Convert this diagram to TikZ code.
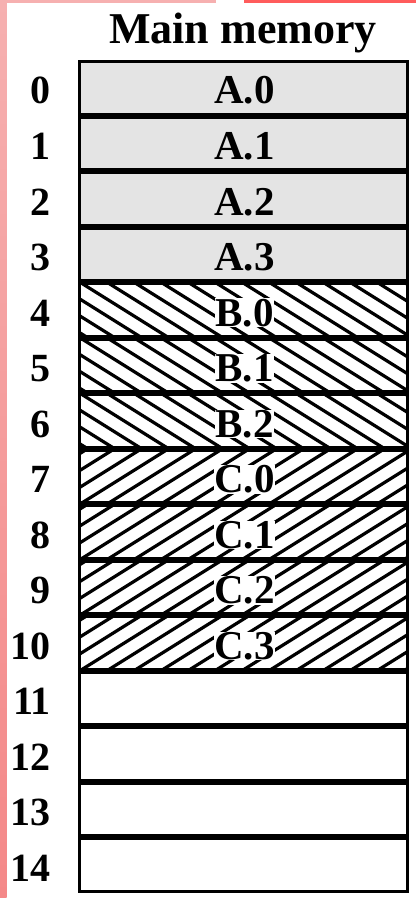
\documentclass[tikz,border=0pt]{standalone}
\usepackage{fontspec}
\setmainfont{Liberation Serif}
\definecolor{cellgray}{HTML}{E4E4E4}
\definecolor{pinkA}{HTML}{F6B0B0}
\definecolor{pinkB}{HTML}{F48888}
\definecolor{redtop}{HTML}{FF5C5C}
\begin{document}
\begin{tikzpicture}[x=1pt,y=1pt,
  cell/.style={draw=black, line width=3pt, minimum width=328pt, minimum height=52.5pt,
    inner sep=0pt, text depth=0pt},
  afill/.style={fill=cellgray},
  nofill/.style={fill=white},
  hatchB/.style={fill=white, path picture={
      \foreach \k in {-5,...,14}{
        \draw[line width=3.2pt] ([xshift=\k*27pt, yshift=2pt]path picture bounding box.north west) -- ++(92pt,-57.5pt);}}},
  hatchC/.style={fill=white, path picture={
      \foreach \k in {-5,...,14}{
        \draw[line width=3.2pt] ([xshift=\k*27pt, yshift=-2pt]path picture bounding box.south west) -- ++(92pt,57.5pt);}}},
  numlbl/.style={anchor=base east, inner sep=0pt, font=\fontsize{40}{42}\selectfont\bfseries},
  celltxt/.style={anchor=base, inner sep=0pt, font=\fontsize{41}{44}\selectfont\bfseries},
  hatchtxt/.style={celltxt, fill=white, inner sep=0.5pt},
  titlestyle/.style={anchor=base, inner sep=0pt, font=\fontsize{44}{46}\selectfont\bfseries}
]
\useasboundingbox (0,0) rectangle (416,898);
\fill[white] (0,0) rectangle (416,898);
% screenshot edge artefacts
\shade[top color=pinkA, bottom color=pinkB] (0,0) rectangle (6.5,898);
\fill[pinkA] (0,895) rectangle (216,898);
\fill[redtop] (244,895) rectangle (416,898);

\node[titlestyle] (title) at (243,854) {Main memory};

\foreach \i/\t/\s/\l in {0/A.0/afill/celltxt,1/A.1/afill/celltxt,2/A.2/afill/celltxt,3/A.3/afill/celltxt,
                      4/B.0/hatchB/hatchtxt,5/B.1/hatchB/hatchtxt,6/B.2/hatchB/hatchtxt,
                      7/C.0/hatchC/hatchtxt,8/C.1/hatchC/hatchtxt,9/C.2/hatchC/hatchtxt,10/C.3/hatchC/hatchtxt,
                      11//nofill/celltxt,12//nofill/celltxt,13//nofill/celltxt,14//nofill/celltxt}{
  \pgfmathsetmacro{\yc}{898-60-55.53*(\i+0.5)}
  \pgfmathsetmacro{\yb}{898-60-55.53*\i-44}
  \node[cell,\s] (r\i) at (243,\yc) {};
  \node[\l] (t\i) at (244.5,\yb) {\t};
  \node[numlbl] (n\i) at (51,\yb) {\i};
}
\end{tikzpicture}
\end{document}
